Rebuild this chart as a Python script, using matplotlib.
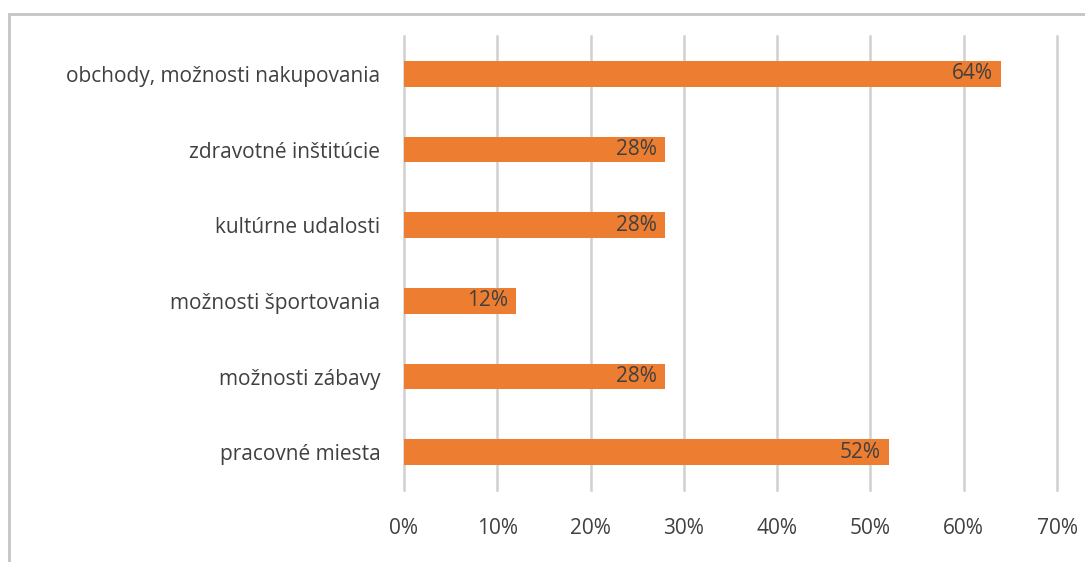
"""
Horizontal bar chart: share of respondents by category.
"""

import matplotlib.pyplot as plt
from matplotlib.patches import Rectangle

categories = [
    "pracovné miesta",
    "možnosti zábavy",
    "možnosti športovania",
    "kultúrne udalosti",
    "zdravotné inštitúcie",
    "obchody, možnosti nakupovania",
]
values = [0.52, 0.28, 0.12, 0.28, 0.28, 0.64]
xticks = [0, 0.1, 0.2, 0.3, 0.4, 0.5, 0.6, 0.7]

text_color = "#404040"
bar_color = "#ED7D31"
grid_color = "#d0d0d0"
fsize = 15

plt.rcParams["font.family"] = ["Open Sans", "DejaVu Sans"]

fig = plt.figure(figsize=(10.85, 5.62), dpi=100)
W, H = 1085, 562
ax = fig.add_axes([404 / W, 1 - 490 / H, (1057 - 404) / W, (490 - 36) / H])

# outer frame of the chart area (partly cut off in the picture)
fig.add_artist(Rectangle((9 / W, -0.1), 1.2, 1 - 14 / H + 0.1,
                         transform=fig.transFigure, fill=False,
                         edgecolor="#c4c4c4", linewidth=2))

ypos = range(len(categories))
ax.barh(ypos, values, height=0.34, color=bar_color, zorder=3)

for y, v in zip(ypos, values):
    ax.annotate(f"{v * 100:.0f}%", (v, y), xytext=(-6, 0),
                textcoords="offset points", ha="right", va="center",
                color=text_color, fontsize=fsize, zorder=4)

ax.set_xlim(0, 0.7)
ax.set_ylim(-0.5, len(categories) - 0.5)
ax.set_xticks(xticks)
ax.set_xticklabels([f"{t * 100:.0f}%" for t in xticks])
ax.set_yticks(list(ypos))
ax.set_yticklabels(categories)

ax.xaxis.grid(True, color=grid_color, linewidth=1.8, zorder=0)
for line in ax.get_xgridlines():
    line.set_clip_on(False)
for s in ax.spines.values():
    s.set_visible(False)
ax.tick_params(axis="both", length=0, colors=text_color, labelsize=fsize)
ax.tick_params(axis="x", pad=20)
ax.tick_params(axis="y", pad=17)

fig.savefig("out.png", dpi=100)
plt.close(fig)
